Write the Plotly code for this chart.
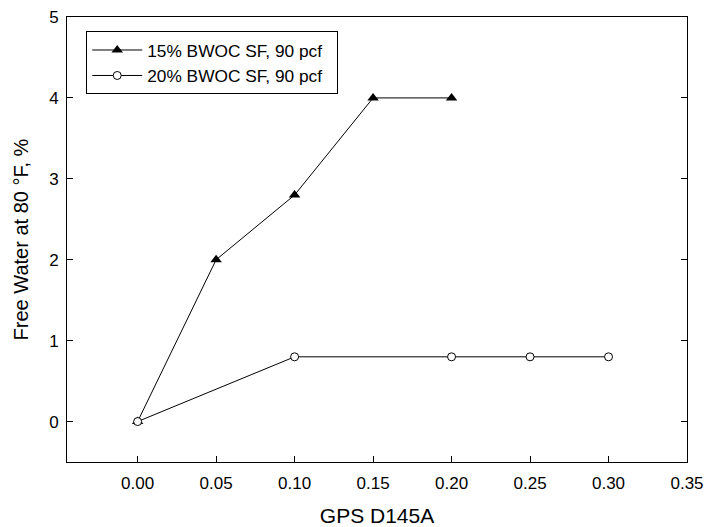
import plotly.graph_objects as go

x_15 = [0.0, 0.05, 0.10, 0.15, 0.20]
y_15 = [0.0, 2.0, 2.8, 4.0, 4.0]
x_20 = [0.0, 0.10, 0.20, 0.25, 0.30]
y_20 = [0.0, 0.8, 0.8, 0.8, 0.8]
name_15 = "15% BWOC SF, 90 pcf"
name_20 = "20% BWOC SF, 90 pcf"
x_ticks = [0.0, 0.05, 0.10, 0.15, 0.20, 0.25, 0.30, 0.35]
y_ticks = [0, 1, 2, 3, 4, 5]

fig = go.Figure()
fig.add_trace(go.Scatter(
    x=x_15, y=y_15, name=name_15 + "\u00a0\u00a0", mode="lines+markers", legendgroup="a",
    line=dict(color="black", width=1),
    marker=dict(symbol="triangle-up", size=10, color="black"),
))
fig.add_trace(go.Scatter(
    x=x_20, y=y_20, name=name_20 + "\u00a0\u00a0", mode="lines+markers", legendgroup="b",
    line=dict(color="black", width=1),
    marker=dict(symbol="circle", size=8, color="white",
                line=dict(color="black", width=1)),
))

font = "Liberation Sans, Arial, sans-serif"
fig.update_layout(
    width=704, height=527,
    margin=dict(l=67, r=17, t=17, b=65, autoexpand=False),
    paper_bgcolor="white", plot_bgcolor="white",
    font=dict(family=font, size=17, color="black"),
    showlegend=True,
    legend=dict(x=0.031, y=0.968, xanchor="left", yanchor="top",
                bordercolor="black", borderwidth=1, bgcolor="white",
                font=dict(size=17.3), traceorder="grouped", tracegroupgap=0,
                itemwidth=50),
    xaxis=dict(
        range=[-0.045, 0.35], tickvals=x_ticks,
        ticktext=[f"{v:.2f}" for v in x_ticks],
        ticks="inside", ticklen=6, tickcolor="black",
        ticklabelstandoff=6, automargin=False,
        showline=True, linecolor="black", linewidth=1, mirror=True,
        showgrid=False, zeroline=False,
        title=dict(text="GPS D145A", font=dict(size=21), standoff=19),
    ),
    yaxis=dict(
        range=[-0.5, 5], tickvals=y_ticks,
        ticks="inside", ticklen=6, tickcolor="black",
        ticklabelstandoff=4, automargin=False,
        showline=True, linecolor="black", linewidth=1, mirror="ticks",
        showgrid=False, zeroline=False,
        title=dict(text="Free Water at 80 °F, %", font=dict(size=20), standoff=15),
    ),
)

fig.write_html("out.html")
